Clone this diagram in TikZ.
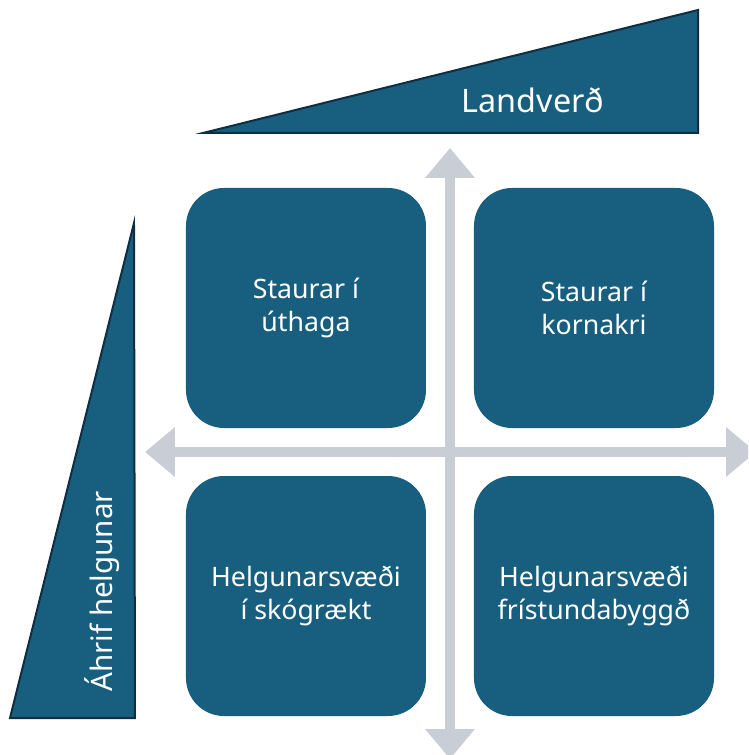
\documentclass[tikz,border=0pt]{standalone}
\usepackage{fontspec}
\setmainfont{Noto Sans}
\usetikzlibrary{arrows.meta, positioning}
\definecolor{quadcolor}{RGB}{24, 94, 126}
\definecolor{edgecolor}{RGB}{14, 47, 66}
\definecolor{axiscolor}{RGB}{201, 206, 214}

\tikzset{
    quadbox/.style={fill=quadcolor, rounded corners=9.5mm, minimum width=60mm, minimum height=60mm, text=white, align=center, font=\fontsize{19}{23}\selectfont},
    wedge/.style={fill=quadcolor, draw=edgecolor, line width=0.5mm},
    wedgelabel/.style={text=white, inner sep=0pt},
    axisarrow/.style={draw=axiscolor, line width=2.5mm, <->, >={Triangle[width=12mm, length=7.5mm]}}
}

\begin{document}
\begin{tikzpicture}[x=5mm, y=5mm]
        \clip (-22.5, -15.15) rectangle (14.9, 22.6);

        % Axes
        \coordinate (axtop) at (0, 15.2);
        \coordinate (axbottom) at (0, -15.35);
        \coordinate (axleft) at (-15.25, 0);
        \coordinate (axright) at (15.3, 0);
        \draw[axisarrow] (axbottom) -- (axtop);
        \draw[axisarrow] (axleft) -- (axright);

        % Quadrants
        \node[quadbox] (tl) at (-7.2, 7.2) {Staurar í\\úthaga};
        \node[quadbox] (tr) at (7.2, 7.2) {Staurar í\\kornakri};
        \node[quadbox] (bl) at (-7.2, -7.2) {Helgunarsvæði\\í skógrækt};
        \node[quadbox] (br) at (7.2, -7.2) {Helgunarsvæði\\frístundabyggð};

        % Land value wedge
        \draw[wedge] (-12.35, 15.95) -- (12.4, 22.1) -- (12.4, 15.95) -- cycle;
        \node[wedgelabel, font=\fontsize{23}{28}\selectfont, anchor=base] (landv) at (4.15, 16.95) {Landverð};

        % Impact wedge
        \draw[wedge] (-15.8, 11.45) -- (-15.75, -13.3) -- (-22, -13.3) -- cycle;
        \node[wedgelabel, font=\fontsize{21}{25}\selectfont, rotate=90, anchor=base west] (ahrif) at (-16.85, -12) {Áhrif helgunar};
    \end{tikzpicture}
\end{document}
